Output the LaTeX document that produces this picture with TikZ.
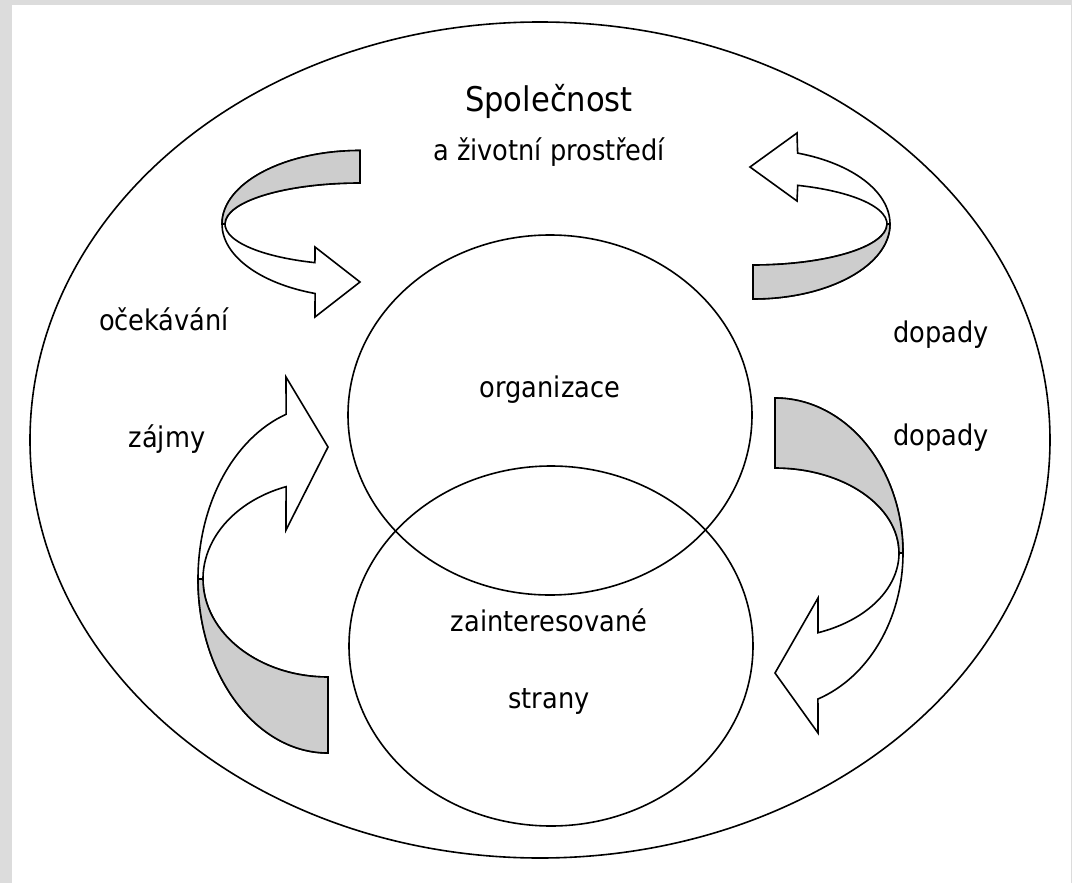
\documentclass[tikz,border=0pt]{standalone}
\usepackage{fontspec}
\setmainfont{DejaVu Sans Condensed}
\usepackage{xcolor}
\usetikzlibrary{calc}
\definecolor{pagegray}{RGB}{220,220,220}
\definecolor{bandgray}{RGB}{205,205,205}
\tikzstyle{ring}=[draw, line width=1.6pt]
\tikzstyle{front}=[draw, fill=white, line width=1.6pt, line join=miter]
\tikzstyle{back}=[draw, fill=bandgray, line width=1.6pt]
\tikzstyle{lbl}=[anchor=base, inner sep=0, font=\fontsize{28.5}{30}\selectfont]
\tikzstyle{title}=[anchor=base, inner sep=0, font=\fontsize{34}{36}\selectfont]

\begin{document}
\begin{tikzpicture}[x=1pt, y=-1pt]
    \fill[pagegray] (0,0) rectangle (1072,883);
    \useasboundingbox (0,0) rectangle (1072,883);
    \fill[white] (12,5) rectangle (1071,883);

    % society, organisation, stakeholders
    \draw[ring] (540,440) ellipse[x radius=510, y radius=418];
    \draw[ring] (550,415) ellipse[x radius=202, y radius=180];
    \draw[ring] (551,646) ellipse[x radius=202, y radius=180];

    \node[title] (spol) at (549,112) {Společnost};
    \node[lbl] (prostr) at (549,160) {a životní prostředí};
    \node[lbl] (org) at (550,397) {organizace};
    \node[lbl] (zaint) at (549,631) {zainteresované};
    \node[lbl] (strany) at (549,708) {strany};
    \node[lbl] (ocek) at (164,330) {očekávání};
    \node[lbl] (zajmy) at (167,447) {zájmy};
    \node[lbl] (dop1) at (941,342) {dopady};
    \node[lbl] (dop2) at (941,445) {dopady};

    % centres of the curved arrows
    \coordinate (c1) at (360,224);
    \coordinate (c2) at (753,224);
    \coordinate (c3) at (328,579);
    \coordinate (c4) at (775,553);

    % top left: expectations
    \draw[front] ($(c1)+(270:138 and 73.5)$) arc[start angle=270, end angle=109, x radius=138, y radius=73.5]
        -- (315,317) -- (360,282) -- (315,247)
        -- ($(c1)+(109.5:135 and 41)$) arc[start angle=109.5, end angle=270, x radius=135, y radius=41] -- cycle;
    \draw[back] ($(c1)+(270:138 and 73.5)$) arc[start angle=270, end angle=180, x radius=138, y radius=73.5]
        -- ($(c1)+(180:135 and 41)$) arc[start angle=180, end angle=270, x radius=135, y radius=41] -- cycle;

    % top right: impacts
    \draw[front] ($(c2)+(90:137 and 75)$) arc[start angle=90, end angle=-71, x radius=137, y radius=75]
        -- (797,133) -- (750,167) -- (797,201)
        -- ($(c2)+(-70.5:134 and 41)$) arc[start angle=-70.5, end angle=90, x radius=134, y radius=41] -- cycle;
    \draw[back] ($(c2)+(90:137 and 75)$) arc[start angle=90, end angle=0, x radius=137, y radius=75]
        -- ($(c2)+(0:134 and 41)$) arc[start angle=0, end angle=90, x radius=134, y radius=41] -- cycle;

    % bottom left: interests
    \draw[front] ($(c3)+(90:130 and 174)$) arc[start angle=90, end angle=251.2, x radius=130, y radius=174]
        -- (286,377) -- (328,447) -- (286,530)
        -- ($(c3)+(250.4:125 and 98)$) arc[start angle=250.4, end angle=90, x radius=125, y radius=98] -- cycle;
    \draw[back] ($(c3)+(90:130 and 174)$) arc[start angle=90, end angle=180, x radius=130, y radius=174]
        -- ($(c3)+(180:125 and 98)$) arc[start angle=180, end angle=90, x radius=125, y radius=98] -- cycle;

    % bottom right: impacts
    \draw[front] ($(c4)+(270:128 and 155)$) arc[start angle=270, end angle=430.4, x radius=128, y radius=155]
        -- (818,733) -- (775,673) -- (818,598)
        -- ($(c4)+(429.7:124 and 85)$) arc[start angle=429.7, end angle=270, x radius=124, y radius=85] -- cycle;
    \draw[back] ($(c4)+(270:128 and 155)$) arc[start angle=270, end angle=360, x radius=128, y radius=155]
        -- ($(c4)+(360:124 and 85)$) arc[start angle=360, end angle=270, x radius=124, y radius=85] -- cycle;
\end{tikzpicture}
\end{document}
